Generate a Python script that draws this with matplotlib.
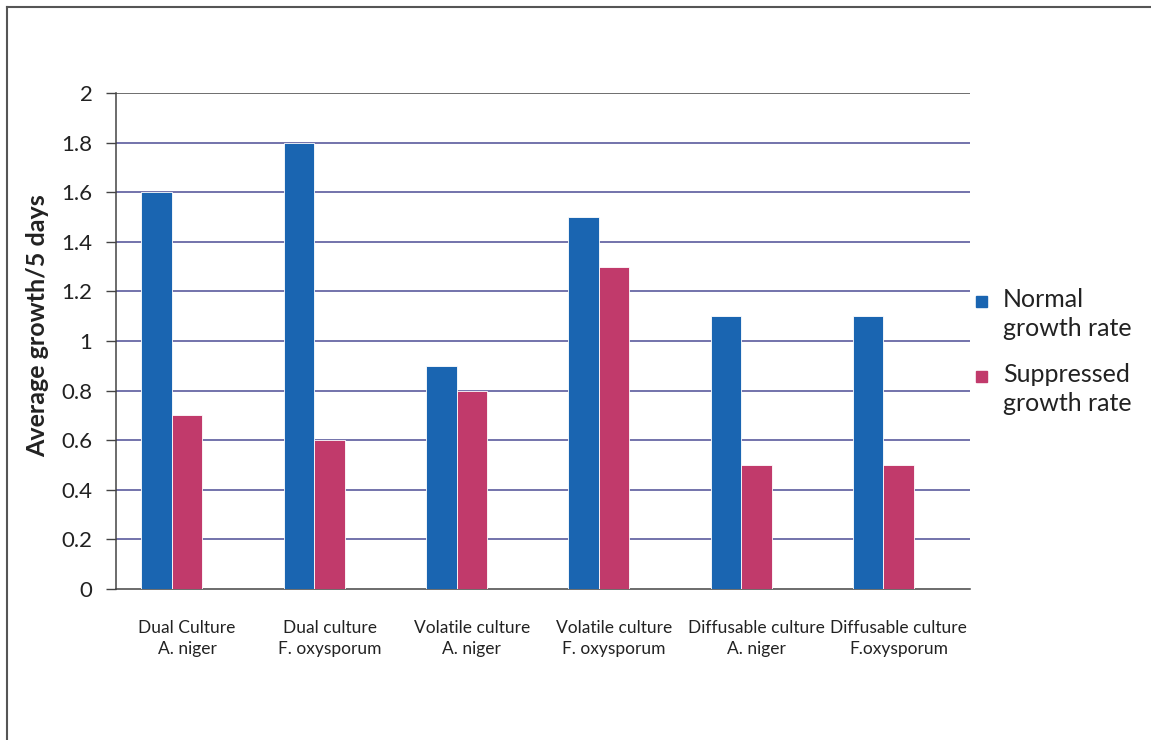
import numpy as np
import matplotlib.pyplot as plt
from matplotlib.lines import Line2D
from matplotlib.patches import Rectangle

plt.rcParams['font.family'] = ['Lato', 'DejaVu Sans']

categories = ['Dual Culture\nA. niger', 'Dual culture\nF. oxysporum',
              'Volatile culture\nA. niger', 'Volatile culture\nF. oxysporum',
              'Diffusable culture\nA. niger', 'Diffusable culture\nF.oxysporum']
normal_rate = [1.6, 1.8, 0.9, 1.5, 1.1, 1.1]
suppressed_rate = [0.7, 0.6, 0.8, 1.3, 0.5, 0.5]
series_names = ['Normal\ngrowth rate', 'Suppressed\ngrowth rate']
series_colors = ['#1a65b1', '#c13a6b']
y_ticks = [0, 0.2, 0.4, 0.6, 0.8, 1, 1.2, 1.4, 1.6, 1.8, 2]
y_ticklabels = ['0', '0.2', '0.4', '0.6', '0.8', '1', '1.2', '1.4', '1.6', '1.8', '2']

fig = plt.figure(figsize=[11.51, 7.4], dpi=100)
ax = fig.add_axes([0.1008, 0.2041, 0.7419, 0.6703])

x = np.arange(len(categories))
w = 0.215
ax.bar(x - w, normal_rate, width=w, color=series_colors[0],
       edgecolor='white', linewidth=0.6, zorder=3)
ax.bar(x, suppressed_rate, width=w, color=series_colors[1],
       edgecolor='white', linewidth=0.6, zorder=3)

# horizontal gridlines
for t in y_ticks[1:-1]:
    ax.axhline(t, color='#4d4d94', lw=1.1, zorder=1)
ax.axhline(2, color='#555555', lw=1.2, zorder=1)

ax.set_xlim(-0.5, len(categories) - 0.5)
ax.set_ylim(0, 2)
ax.set_yticks(y_ticks)
ax.set_yticklabels(y_ticklabels, fontsize=16, color='#222222')
ax.set_xticks(x)
ax.set_xticklabels(categories, fontsize=12.5, color='#222222', linespacing=1.45)
ax.tick_params(axis='x', length=0, pad=22)
ax.tick_params(axis='y', length=7, width=1, color='#444444', pad=10)
for side in ['top', 'right']:
    ax.spines[side].set_visible(False)
for side in ['left', 'bottom']:
    ax.spines[side].set_color('#444444')
    ax.spines[side].set_linewidth(1.1)

ax.set_ylabel('Average growth/5 days', fontsize=18, fontweight='bold',
              color='#222222')
ax.yaxis.set_label_coords(-0.078, 0.53)

# legend: square markers aligned to the first text line
for i, (name, col) in enumerate(zip(series_names, series_colors)):
    ty = 1 - (302 + i * 75) / 740
    fig.patches.append(Rectangle((976 / 1151, ty - 5 / 740), 11 / 1151, 11 / 740,
                                 transform=fig.transFigure, color=col))
    fig.text(1003 / 1151, ty + 14 / 740, name, fontsize=18, color='#222222',
             va='top', ha='left', linespacing=1.3)

# outer frame
fig.lines.append(Line2D([7 / 1151, 7 / 1151], [0, 1 - 7 / 740],
                        transform=fig.transFigure, color='#555555', lw=1.5))
fig.lines.append(Line2D([7 / 1151, 1], [1 - 7 / 740, 1 - 7 / 740],
                        transform=fig.transFigure, color='#555555', lw=1.5))

plt.savefig('out.png', dpi=100)
plt.close()
